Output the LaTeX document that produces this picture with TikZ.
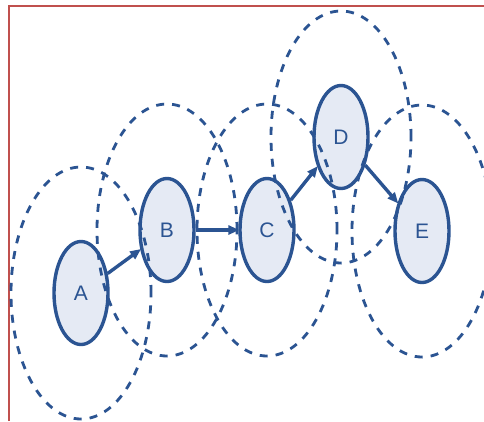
\documentclass[tikz,border=0pt]{standalone}
\usepackage{fontspec}
\setmainfont{Liberation Sans}
\usepackage{xcolor}
\usepackage{tikz}
\usetikzlibrary{positioning,arrows.meta,shapes.geometric}
\definecolor{nodeblue}{RGB}{43,84,146}
\definecolor{nodefill}{RGB}{229,234,244}
\definecolor{framered}{RGB}{192,80,77}
\tikzset{
  state/.style = {ellipse, draw=nodeblue, fill=nodefill, line width=3.4pt, inner sep=0pt,
                  minimum width=54pt, minimum height=103pt, text=nodeblue,
                  font=\fontsize{21}{21}\selectfont},
  halo/.style  = {draw=nodeblue, line width=2.8pt, dash pattern=on 8pt off 8pt},
  link/.style  = {-{Triangle[length=11pt,width=9pt]}, line width=3.4pt, draw=nodeblue, shorten >=-1pt},
}

\begin{document}
\begin{tikzpicture}[x=1pt, y=-1pt, node distance=10pt, on grid]
  \useasboundingbox[fill=white] (0,0) rectangle (484,421);
  \draw[framered, line width=2pt] (8.5,421) -- (8.5,5.5) -- (484,5.5);
  \node[state] (A) at (81,293) {A};
  \node[state, above right=63pt and 86pt of A] (B) {B};
  \node[state, right=100pt of B] (C) {C};
  \node[state, above right=93pt and 74pt of C] (D) {D};
  \node[state, below right=94pt and 81pt of D] (E) {E};
  \foreach \n in {A,B,C,D,E}
    \draw[halo] (\n) ellipse[x radius=70pt, y radius=126pt];
  \draw[link] (A) -- (B);
  \draw[link] (B) -- (C);
  \draw[link] (C) -- (D);
  \draw[link] (D) -- (E);
\end{tikzpicture}
\end{document}
